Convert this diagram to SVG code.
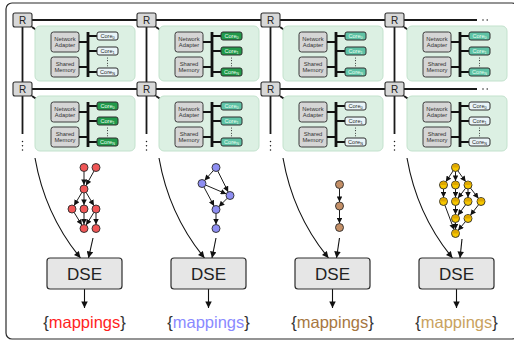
<svg xmlns="http://www.w3.org/2000/svg" width="514" height="343" viewBox="0 0 514 343">
  <style>
    text { font-family: "Liberation Sans", Arial, Helvetica, sans-serif; }
    .frame { fill: #ffffff; stroke: #2b2b2b; stroke-width: 1.2; }
    .net { fill: none; stroke: #1a1a1a; stroke-width: 1.8; }
    .netdots { fill: none; stroke: #1a1a1a; stroke-width: 1.5; stroke-linecap: round; stroke-dasharray: 0 4.2; }
    .router { fill: #d8d8d8; stroke: #2e2e2e; stroke-width: 1.1; }
    .rt { font-size: 10px; fill: #222; text-anchor: middle; }
    .tile { fill: #dcf0e3; stroke: #c3e2cd; stroke-width: 1; }
    .box { fill: #d5d5d5; stroke: #3d3d3d; stroke-width: 1; }
    .bl { font-size: 5.8px; fill: #333; text-anchor: middle; }
    .bus { fill: none; stroke: #111; stroke-width: 2.2; }
    .bar { fill: #111; }
    .cdots { fill: none; stroke: #222; stroke-width: 1.1; stroke-linecap: round; stroke-dasharray: 0 2.6; }
    .core { stroke: #2e2e2e; stroke-width: 1; }
    .c-light { fill: #e9f4f8; }
    .c-green { fill: #22994b; }
    .c-teal { fill: #5fc2a5; }
    .ct { font-size: 5.6px; text-anchor: middle; }
    .t-dark { fill: #2a2a2a; }
    .t-pale { fill: #e6fff0; }
    .sub { font-size: 3.8px; }
    .edge { fill: none; stroke: #1e1e1e; stroke-width: 1; marker-end: url(#tip-small); }
    .flow { fill: none; stroke: #111; stroke-width: 1.1; marker-end: url(#tip-big); }
    .task { stroke: #2a2a2a; stroke-width: 0.9; }
    .red { fill: #f05656; }
    .blue { fill: #8e8ef2; }
    .brown { fill: #c48f66; }
    .gold { fill: #f6c700; }
    .goldtop { fill: #dea700; }
    .dse { fill: #e6e6e6; stroke: #2e2e2e; stroke-width: 1.2; }
    .dset { font-size: 17px; fill: #222; text-anchor: middle; }
    .map { font-size: 16.5px; fill: #333; text-anchor: middle; }
  </style>
  <defs>
    <marker id="tip-small" viewBox="0 0 10 10" refX="10" refY="5" markerUnits="userSpaceOnUse" markerWidth="6" markerHeight="5.6" orient="auto">
      <path d="M0,0 L10,5 L0,10 z" fill="#111"/>
    </marker>
    <marker id="tip-big" viewBox="0 0 10 10" refX="10" refY="5" markerUnits="userSpaceOnUse" markerWidth="7.5" markerHeight="6.5" orient="auto">
      <path d="M0,0 L10,5 L0,10 z" fill="#111"/>
    </marker>
  </defs>

  <!-- outer frame -->
  <rect class="frame" x="6" y="3" width="512" height="336" rx="6"/>

  <!-- connectors -->
  <g id="connectors">
    <!-- mesh links -->
    <path class="net" d="M32,20H477M32,89H477"/>
    <path class="net" d="M22.5,27V134M146.5,27V134M270.5,27V134M394.5,27V134"/>
    <path class="netdots" d="M483,20H491.4M483,89H491.4"/>
    <path class="netdots" d="M22.5,141.5V150M146.5,141.5V150M270.5,141.5V150M394.5,141.5V150"/>
    <!-- router to tile -->
    <path class="net" d="M32,27L40,32.5M156,27L164,32.5M280,27L288,32.5M404,27L412,32.5"/>
    <path class="net" d="M32,96L40,101.5M156,96L164,101.5M280,96L288,101.5M404,96L412,101.5"/>

    <!-- architecture into DSE -->
    <path class="flow" d="M35,158Q45,215 80.5,258"/>
    <path class="flow" d="M159,158Q169,215 204.5,258"/>
    <path class="flow" d="M283,158Q293,215 328.5,258"/>
    <path class="flow" d="M407,158Q417,215 452.5,258"/>
    <!-- task graph into DSE -->
    <path class="flow" d="M93,238L88.5,258"/>
    <path class="flow" d="M216,238L212,258"/>
    <path class="flow" d="M339.5,238L336.5,258"/>
    <path class="flow" d="M462,239L460,258"/>
    <!-- DSE to mappings -->
    <path class="flow" d="M84.5,289V308"/>
    <path class="flow" d="M208.5,289V308"/>
    <path class="flow" d="M332.5,289V308"/>
    <path class="flow" d="M456.5,289V308"/>

    <!-- task graph edges: red -->
    <path class="edge" d="M84,171.5V185"/>
    <path class="edge" d="M94,171L86,185.5"/>
    <path class="edge" d="M81.9,192.4L74.1,205.6"/>
    <path class="edge" d="M84,193V205"/>
    <path class="edge" d="M86.1,192.4L93.9,205.6"/>
    <path class="edge" d="M74.1,212.4L81.9,225.1"/>
    <path class="edge" d="M84,213V224.5"/>
    <path class="edge" d="M93.9,212.4L86.1,225.1"/>
    <path class="edge" d="M96,213V224.5"/>
    <!-- blue -->
    <path class="edge" d="M213.4,170.5L204.6,180.5"/>
    <path class="edge" d="M217.8,171.1L228.2,191.9"/>
    <path class="edge" d="M205.7,185.1L226.3,193.9"/>
    <path class="edge" d="M203.9,187L214.1,206"/>
    <path class="edge" d="M227.2,198.3L218.8,206.7"/>
    <path class="edge" d="M216,213.5V224.5"/>
    <!-- brown -->
    <path class="edge" d="M339.5,188.5V202"/>
    <path class="edge" d="M339.5,210V223.5"/>
    <!-- gold -->
    <path class="edge" d="M453.2,170.8L445.8,181.7"/>
    <path class="edge" d="M455.5,171.5V181"/>
    <path class="edge" d="M457.8,170.8L465.7,181.7"/>
    <path class="edge" d="M443.5,189V197.5"/>
    <path class="edge" d="M455.5,189V197.5"/>
    <path class="edge" d="M465.6,188.2L457.9,198.3"/>
    <path class="edge" d="M468,189V197.5"/>
    <path class="edge" d="M470.5,188.1L478.5,198.4"/>
    <path class="edge" d="M444.9,205.2L454.1,229.8"/>
    <path class="edge" d="M455.5,205.5V214.5"/>
    <path class="edge" d="M465.6,204.7L457.9,215.3"/>
    <path class="edge" d="M478.6,204.7L470.4,215.3"/>
    <path class="edge" d="M455.5,222.5V229.5"/>
    <path class="edge" d="M465.4,221.6L458.1,230.4"/>
  </g>

  <!-- routers -->
  <g id="router-0-0"><rect class="router" x="13" y="13" width="19" height="14" rx="2"/><text class="rt" x="22.5" y="23.6">R</text></g>
  <g id="router-0-1"><rect class="router" x="137" y="13" width="19" height="14" rx="2"/><text class="rt" x="146.5" y="23.6">R</text></g>
  <g id="router-0-2"><rect class="router" x="261" y="13" width="19" height="14" rx="2"/><text class="rt" x="270.5" y="23.6">R</text></g>
  <g id="router-0-3"><rect class="router" x="385" y="13" width="19" height="14" rx="2"/><text class="rt" x="394.5" y="23.6">R</text></g>
  <g id="router-1-0"><rect class="router" x="13" y="82" width="19" height="14" rx="2"/><text class="rt" x="22.5" y="92.6">R</text></g>
  <g id="router-1-1"><rect class="router" x="137" y="82" width="19" height="14" rx="2"/><text class="rt" x="146.5" y="92.6">R</text></g>
  <g id="router-1-2"><rect class="router" x="261" y="82" width="19" height="14" rx="2"/><text class="rt" x="270.5" y="92.6">R</text></g>
  <g id="router-1-3"><rect class="router" x="385" y="82" width="19" height="14" rx="2"/><text class="rt" x="394.5" y="92.6">R</text></g>

  <!-- processing tiles -->
  <g id="tile-0-0" transform="translate(35,26)">
    <rect class="tile" width="100" height="55" rx="5"/>
    <rect class="box" x="16" y="6" width="28" height="20" rx="2.5"/>
    <text class="bl" x="30" y="14.6">Network</text><text class="bl" x="30" y="21.4">Adapter</text>
    <rect class="box" x="16" y="31" width="28" height="20" rx="2.5"/>
    <text class="bl" x="30" y="39.6">Shared</text><text class="bl" x="30" y="46.4">Memory</text>
    <path class="bus" d="M44,16H53M44,41H53M53,10H62M53,25H62M53,46H62"/>
    <rect class="bar" x="51.6" y="6" width="2.8" height="45"/>
    <path class="cdots" d="M72.5,32V40"/>
    <rect class="core c-light" x="62" y="6" width="21" height="8" rx="2"/>
    <text class="ct t-dark" x="72.5" y="12">Core<tspan class="sub" dy="1">0</tspan></text>
    <rect class="core c-light" x="62" y="21" width="21" height="8" rx="2"/>
    <text class="ct t-dark" x="72.5" y="27">Core<tspan class="sub" dy="1">1</tspan></text>
    <rect class="core c-light" x="62" y="42" width="21" height="8" rx="2"/>
    <text class="ct t-dark" x="72.5" y="48">Core<tspan class="sub" dy="1">N</tspan></text>
  </g>
  <g id="tile-0-1" transform="translate(159,26)">
    <rect class="tile" width="100" height="55" rx="5"/>
    <rect class="box" x="16" y="6" width="28" height="20" rx="2.5"/>
    <text class="bl" x="30" y="14.6">Network</text><text class="bl" x="30" y="21.4">Adapter</text>
    <rect class="box" x="16" y="31" width="28" height="20" rx="2.5"/>
    <text class="bl" x="30" y="39.6">Shared</text><text class="bl" x="30" y="46.4">Memory</text>
    <path class="bus" d="M44,16H53M44,41H53M53,10H62M53,25H62M53,46H62"/>
    <rect class="bar" x="51.6" y="6" width="2.8" height="45"/>
    <path class="cdots" d="M72.5,32V40"/>
    <rect class="core c-green" x="62" y="6" width="21" height="8" rx="2"/>
    <text class="ct t-pale" x="72.5" y="12">Core<tspan class="sub" dy="1">0</tspan></text>
    <rect class="core c-green" x="62" y="21" width="21" height="8" rx="2"/>
    <text class="ct t-pale" x="72.5" y="27">Core<tspan class="sub" dy="1">1</tspan></text>
    <rect class="core c-green" x="62" y="42" width="21" height="8" rx="2"/>
    <text class="ct t-pale" x="72.5" y="48">Core<tspan class="sub" dy="1">N</tspan></text>
  </g>
  <g id="tile-0-2" transform="translate(283,26)">
    <rect class="tile" width="100" height="55" rx="5"/>
    <rect class="box" x="16" y="6" width="28" height="20" rx="2.5"/>
    <text class="bl" x="30" y="14.6">Network</text><text class="bl" x="30" y="21.4">Adapter</text>
    <rect class="box" x="16" y="31" width="28" height="20" rx="2.5"/>
    <text class="bl" x="30" y="39.6">Shared</text><text class="bl" x="30" y="46.4">Memory</text>
    <path class="bus" d="M44,16H53M44,41H53M53,10H62M53,25H62M53,46H62"/>
    <rect class="bar" x="51.6" y="6" width="2.8" height="45"/>
    <path class="cdots" d="M72.5,32V40"/>
    <rect class="core c-teal" x="62" y="6" width="21" height="8" rx="2"/>
    <text class="ct t-pale" x="72.5" y="12">Core<tspan class="sub" dy="1">0</tspan></text>
    <rect class="core c-teal" x="62" y="21" width="21" height="8" rx="2"/>
    <text class="ct t-pale" x="72.5" y="27">Core<tspan class="sub" dy="1">1</tspan></text>
    <rect class="core c-teal" x="62" y="42" width="21" height="8" rx="2"/>
    <text class="ct t-pale" x="72.5" y="48">Core<tspan class="sub" dy="1">N</tspan></text>
  </g>
  <g id="tile-0-3" transform="translate(407,26)">
    <rect class="tile" width="100" height="55" rx="5"/>
    <rect class="box" x="16" y="6" width="28" height="20" rx="2.5"/>
    <text class="bl" x="30" y="14.6">Network</text><text class="bl" x="30" y="21.4">Adapter</text>
    <rect class="box" x="16" y="31" width="28" height="20" rx="2.5"/>
    <text class="bl" x="30" y="39.6">Shared</text><text class="bl" x="30" y="46.4">Memory</text>
    <path class="bus" d="M44,16H53M44,41H53M53,10H62M53,25H62M53,46H62"/>
    <rect class="bar" x="51.6" y="6" width="2.8" height="45"/>
    <path class="cdots" d="M72.5,32V40"/>
    <rect class="core c-teal" x="62" y="6" width="21" height="8" rx="2"/>
    <text class="ct t-pale" x="72.5" y="12">Core<tspan class="sub" dy="1">0</tspan></text>
    <rect class="core c-teal" x="62" y="21" width="21" height="8" rx="2"/>
    <text class="ct t-pale" x="72.5" y="27">Core<tspan class="sub" dy="1">1</tspan></text>
    <rect class="core c-teal" x="62" y="42" width="21" height="8" rx="2"/>
    <text class="ct t-pale" x="72.5" y="48">Core<tspan class="sub" dy="1">N</tspan></text>
  </g>
  <g id="tile-1-0" transform="translate(35,96)">
    <rect class="tile" width="100" height="55" rx="5"/>
    <rect class="box" x="16" y="6" width="28" height="20" rx="2.5"/>
    <text class="bl" x="30" y="14.6">Network</text><text class="bl" x="30" y="21.4">Adapter</text>
    <rect class="box" x="16" y="31" width="28" height="20" rx="2.5"/>
    <text class="bl" x="30" y="39.6">Shared</text><text class="bl" x="30" y="46.4">Memory</text>
    <path class="bus" d="M44,16H53M44,41H53M53,10H62M53,25H62M53,46H62"/>
    <rect class="bar" x="51.6" y="6" width="2.8" height="45"/>
    <path class="cdots" d="M72.5,32V40"/>
    <rect class="core c-green" x="62" y="6" width="21" height="8" rx="2"/>
    <text class="ct t-pale" x="72.5" y="12">Core<tspan class="sub" dy="1">0</tspan></text>
    <rect class="core c-green" x="62" y="21" width="21" height="8" rx="2"/>
    <text class="ct t-pale" x="72.5" y="27">Core<tspan class="sub" dy="1">1</tspan></text>
    <rect class="core c-green" x="62" y="42" width="21" height="8" rx="2"/>
    <text class="ct t-pale" x="72.5" y="48">Core<tspan class="sub" dy="1">N</tspan></text>
  </g>
  <g id="tile-1-1" transform="translate(159,96)">
    <rect class="tile" width="100" height="55" rx="5"/>
    <rect class="box" x="16" y="6" width="28" height="20" rx="2.5"/>
    <text class="bl" x="30" y="14.6">Network</text><text class="bl" x="30" y="21.4">Adapter</text>
    <rect class="box" x="16" y="31" width="28" height="20" rx="2.5"/>
    <text class="bl" x="30" y="39.6">Shared</text><text class="bl" x="30" y="46.4">Memory</text>
    <path class="bus" d="M44,16H53M44,41H53M53,10H62M53,25H62M53,46H62"/>
    <rect class="bar" x="51.6" y="6" width="2.8" height="45"/>
    <path class="cdots" d="M72.5,32V40"/>
    <rect class="core c-teal" x="62" y="6" width="21" height="8" rx="2"/>
    <text class="ct t-pale" x="72.5" y="12">Core<tspan class="sub" dy="1">0</tspan></text>
    <rect class="core c-teal" x="62" y="21" width="21" height="8" rx="2"/>
    <text class="ct t-pale" x="72.5" y="27">Core<tspan class="sub" dy="1">1</tspan></text>
    <rect class="core c-teal" x="62" y="42" width="21" height="8" rx="2"/>
    <text class="ct t-pale" x="72.5" y="48">Core<tspan class="sub" dy="1">N</tspan></text>
  </g>
  <g id="tile-1-2" transform="translate(283,96)">
    <rect class="tile" width="100" height="55" rx="5"/>
    <rect class="box" x="16" y="6" width="28" height="20" rx="2.5"/>
    <text class="bl" x="30" y="14.6">Network</text><text class="bl" x="30" y="21.4">Adapter</text>
    <rect class="box" x="16" y="31" width="28" height="20" rx="2.5"/>
    <text class="bl" x="30" y="39.6">Shared</text><text class="bl" x="30" y="46.4">Memory</text>
    <path class="bus" d="M44,16H53M44,41H53M53,10H62M53,25H62M53,46H62"/>
    <rect class="bar" x="51.6" y="6" width="2.8" height="45"/>
    <path class="cdots" d="M72.5,32V40"/>
    <rect class="core c-light" x="62" y="6" width="21" height="8" rx="2"/>
    <text class="ct t-dark" x="72.5" y="12">Core<tspan class="sub" dy="1">0</tspan></text>
    <rect class="core c-light" x="62" y="21" width="21" height="8" rx="2"/>
    <text class="ct t-dark" x="72.5" y="27">Core<tspan class="sub" dy="1">1</tspan></text>
    <rect class="core c-light" x="62" y="42" width="21" height="8" rx="2"/>
    <text class="ct t-dark" x="72.5" y="48">Core<tspan class="sub" dy="1">N</tspan></text>
  </g>
  <g id="tile-1-3" transform="translate(407,96)">
    <rect class="tile" width="100" height="55" rx="5"/>
    <rect class="box" x="16" y="6" width="28" height="20" rx="2.5"/>
    <text class="bl" x="30" y="14.6">Network</text><text class="bl" x="30" y="21.4">Adapter</text>
    <rect class="box" x="16" y="31" width="28" height="20" rx="2.5"/>
    <text class="bl" x="30" y="39.6">Shared</text><text class="bl" x="30" y="46.4">Memory</text>
    <path class="bus" d="M44,16H53M44,41H53M53,10H62M53,25H62M53,46H62"/>
    <rect class="bar" x="51.6" y="6" width="2.8" height="45"/>
    <path class="cdots" d="M72.5,32V40"/>
    <rect class="core c-light" x="62" y="6" width="21" height="8" rx="2"/>
    <text class="ct t-dark" x="72.5" y="12">Core<tspan class="sub" dy="1">0</tspan></text>
    <rect class="core c-light" x="62" y="21" width="21" height="8" rx="2"/>
    <text class="ct t-dark" x="72.5" y="27">Core<tspan class="sub" dy="1">1</tspan></text>
    <rect class="core c-light" x="62" y="42" width="21" height="8" rx="2"/>
    <text class="ct t-dark" x="72.5" y="48">Core<tspan class="sub" dy="1">N</tspan></text>
  </g>

  <!-- task graphs -->
  <g id="graph-red">
    <circle class="task red" cx="84" cy="167.5" r="4"/>
    <circle class="task red" cx="96" cy="167.5" r="4"/>
    <circle class="task red" cx="84" cy="189" r="4"/>
    <circle class="task red" cx="72" cy="209" r="4"/>
    <circle class="task red" cx="84" cy="209" r="4"/>
    <circle class="task red" cx="96" cy="209" r="4"/>
    <circle class="task red" cx="84" cy="228.5" r="4"/>
    <circle class="task red" cx="96" cy="228.5" r="4"/>
  </g>
  <g id="graph-blue">
    <circle class="task blue" cx="216" cy="167.5" r="4"/>
    <circle class="task blue" cx="202" cy="183.5" r="4"/>
    <circle class="task blue" cx="230" cy="195.5" r="4"/>
    <circle class="task blue" cx="216" cy="209.5" r="4"/>
    <circle class="task blue" cx="216" cy="228.5" r="4"/>
  </g>
  <g id="graph-brown">
    <circle class="task brown" cx="339.5" cy="184.5" r="4"/>
    <circle class="task brown" cx="339.5" cy="206" r="4"/>
    <circle class="task brown" cx="339.5" cy="227.5" r="4"/>
  </g>
  <g id="graph-gold">
    <circle class="task gold" cx="455.5" cy="167.5" r="4"/>
    <circle class="task gold" cx="443.5" cy="185" r="4"/>
    <circle class="task gold" cx="455.5" cy="185" r="4"/>
    <circle class="task gold" cx="468" cy="185" r="4"/>
    <circle class="task gold" cx="443.5" cy="201.5" r="4"/>
    <circle class="task gold" cx="455.5" cy="201.5" r="4"/>
    <circle class="task gold" cx="468" cy="201.5" r="4"/>
    <circle class="task gold" cx="481" cy="201.5" r="4"/>
    <circle class="task gold" cx="455.5" cy="218.5" r="4"/>
    <circle class="task gold" cx="468" cy="218.5" r="4"/>
    <circle class="task gold" cx="455.5" cy="233.5" r="4"/>
    <path class="goldtop" d="M451.9,167.5a3.6,3.6 0 0 1 7.2,0zM439.9,185a3.6,3.6 0 0 1 7.2,0zM451.9,185a3.6,3.6 0 0 1 7.2,0zM464.4,185a3.6,3.6 0 0 1 7.2,0zM439.9,201.5a3.6,3.6 0 0 1 7.2,0zM451.9,201.5a3.6,3.6 0 0 1 7.2,0zM464.4,201.5a3.6,3.6 0 0 1 7.2,0zM477.4,201.5a3.6,3.6 0 0 1 7.2,0zM451.9,218.5a3.6,3.6 0 0 1 7.2,0zM464.4,218.5a3.6,3.6 0 0 1 7.2,0zM451.9,233.5a3.6,3.6 0 0 1 7.2,0z"/>
  </g>

  <!-- exploration stages -->
  <g id="dse-0"><rect class="dse" x="47" y="258" width="75" height="31" rx="3"/><text class="dset" x="84.5" y="280">DSE</text></g>
  <g id="dse-1"><rect class="dse" x="171" y="258" width="75" height="31" rx="3"/><text class="dset" x="208.5" y="280">DSE</text></g>
  <g id="dse-2"><rect class="dse" x="295" y="258" width="75" height="31" rx="3"/><text class="dset" x="332.5" y="280">DSE</text></g>
  <g id="dse-3"><rect class="dse" x="419" y="258" width="75" height="31" rx="3"/><text class="dset" x="456.5" y="280">DSE</text></g>

  <!-- results -->
  <g id="mappings-0"><text class="map" x="84.5" y="328">{<tspan fill="#ff1e1e">mappings</tspan>}</text></g>
  <g id="mappings-1"><text class="map" x="208.5" y="328">{<tspan fill="#8a8aff">mappings</tspan>}</text></g>
  <g id="mappings-2"><text class="map" x="332.5" y="328">{<tspan fill="#a7773f">mappings</tspan>}</text></g>
  <g id="mappings-3"><text class="map" x="456.5" y="328">{<tspan fill="#c9a25e">mappings</tspan>}</text></g>
</svg>
